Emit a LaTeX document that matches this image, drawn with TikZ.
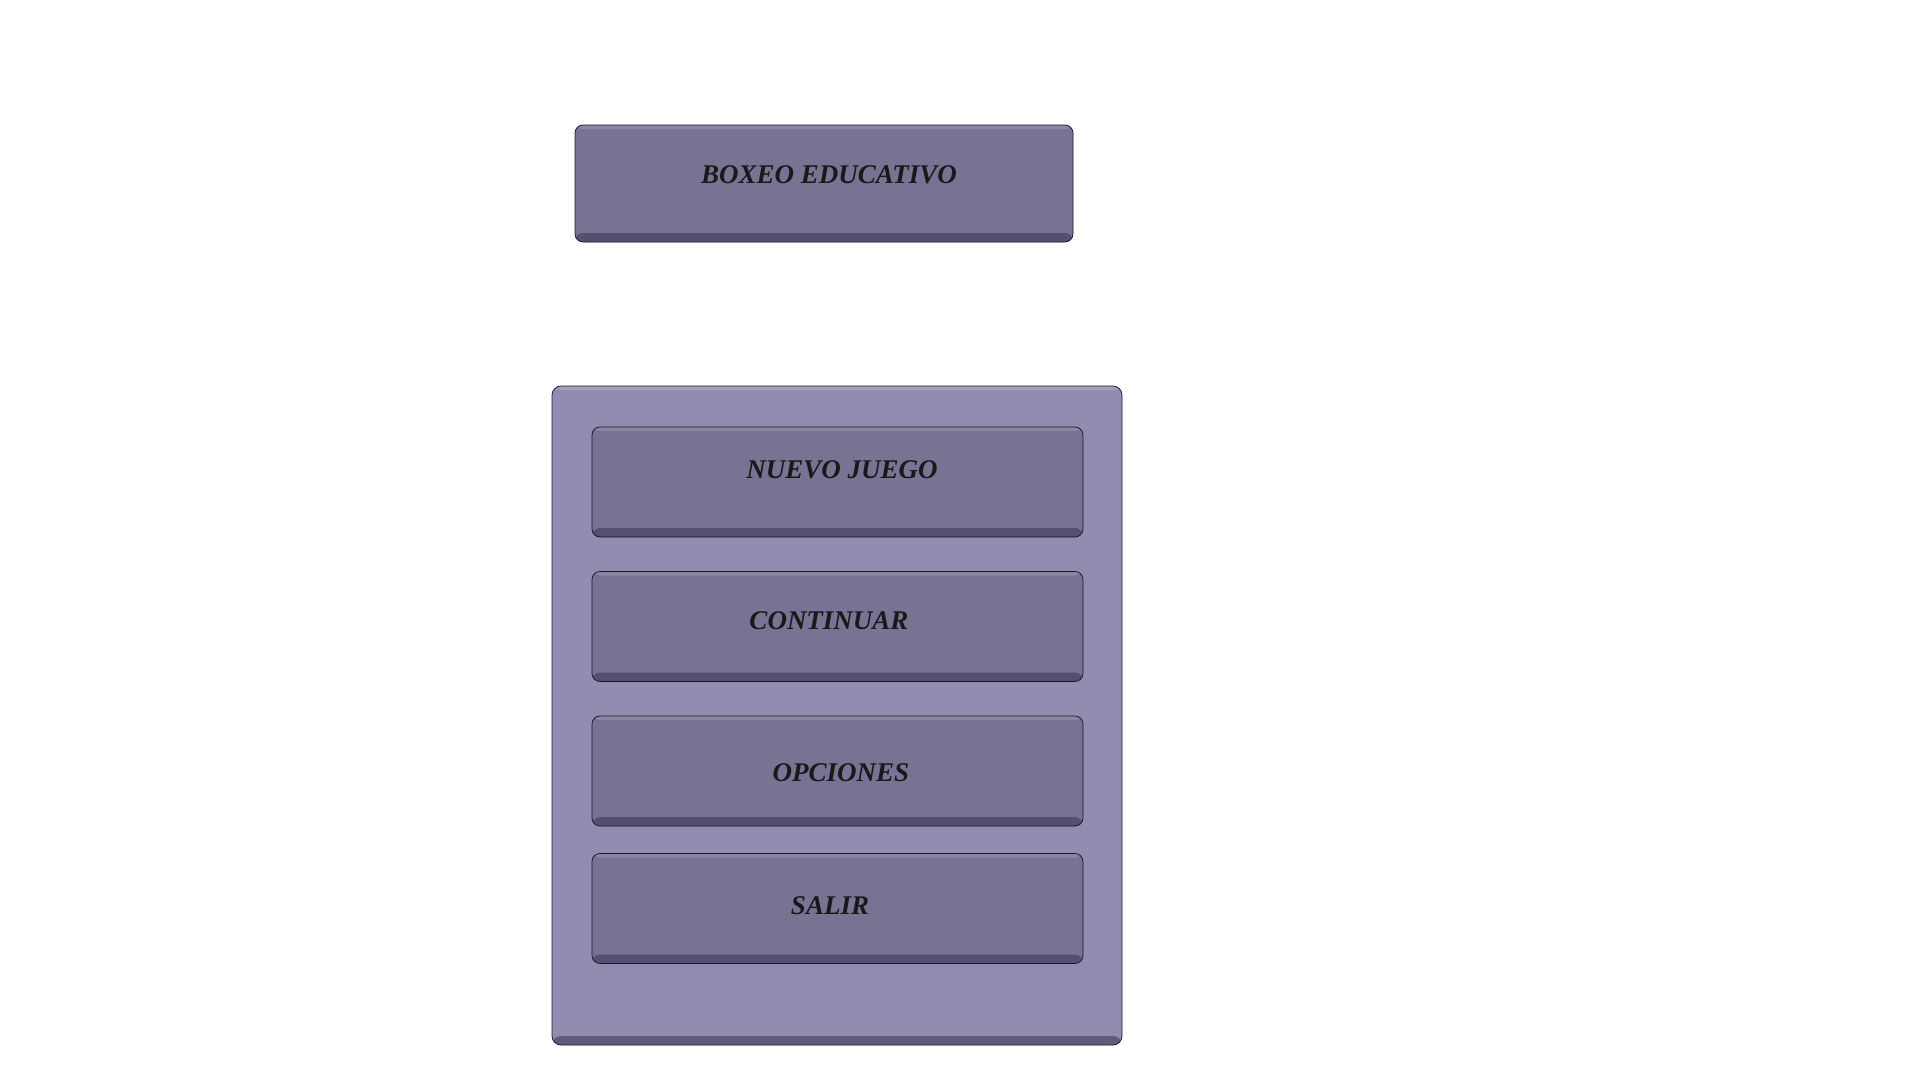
\documentclass[tikz,border=0pt]{standalone}
\usepackage{fontspec}
\setmainfont{Liberation Serif}
\usepackage{tikz}
\usetikzlibrary{positioning}
\definecolor{fondoPanel}{RGB}{146,141,176}
\definecolor{fondoBoton}{RGB}{119,115,146}
\definecolor{sombraBisel}{RGB}{62,58,88}
\definecolor{borde}{RGB}{22,20,58}
\tikzset{
    bisel/.style={
        path picture={
            \shade[top color=fondoBoton!0!sombraBisel, bottom color=sombraBisel, opacity=0.6] ([yshift=9pt]path picture bounding box.south west) rectangle (path picture bounding box.south east);
            \fill[white,opacity=0.15] (path picture bounding box.north west) rectangle ([yshift=-4pt]path picture bounding box.north east);
        }
    },
    panel/.style={draw=borde, line width=0.75, fill=fondoPanel, rounded corners=9, bisel, minimum width=570, minimum height=659, inner sep=0},
    boton/.style={draw=borde, line width=0.75, fill=fondoBoton, rounded corners=8, bisel, minimum width=491, minimum height=110, inner sep=0},
    rotulo/.style={font=\fontsize{27}{30}\selectfont\bfseries\itshape, text=black!90, inner sep=0}
}
\begin{document}
\begin{tikzpicture}[x=1pt,y=1pt,yscale=-1,xscale=1]
		\path[use as bounding box] (0,0) rectangle (1920,1080); %set diagram size 1920 x 1080
		
		% Title
		\node [boton, minimum width=498, minimum height=117] (titulo) at (824,183.5) {};
		\node [rotulo] (tituloTexto) at (829,175) {BOXEO EDUCATIVO};
		
		% Menu panel
		\node [panel] (menu) at (837,715.5) {};
		
		% Buttons
		\node [boton] (nuevo) at (837.5,482) {};
		\node [rotulo] (nuevoTexto) at (842,470) {NUEVO JUEGO};
		\node [boton] (continuar) at (837.5,626.5) {};
		\node [rotulo] (continuarTexto) at (829,621) {CONTINUAR};
		\node [boton] (opciones) at (837.5,771) {};
		\node [rotulo] (opcionesTexto) at (841,773) {OPCIONES};
		\node [boton] (salir) at (837.5,908.5) {};
		\node [rotulo] (salirTexto) at (830,906) {SALIR};
		
\end{tikzpicture}
\end{document}
